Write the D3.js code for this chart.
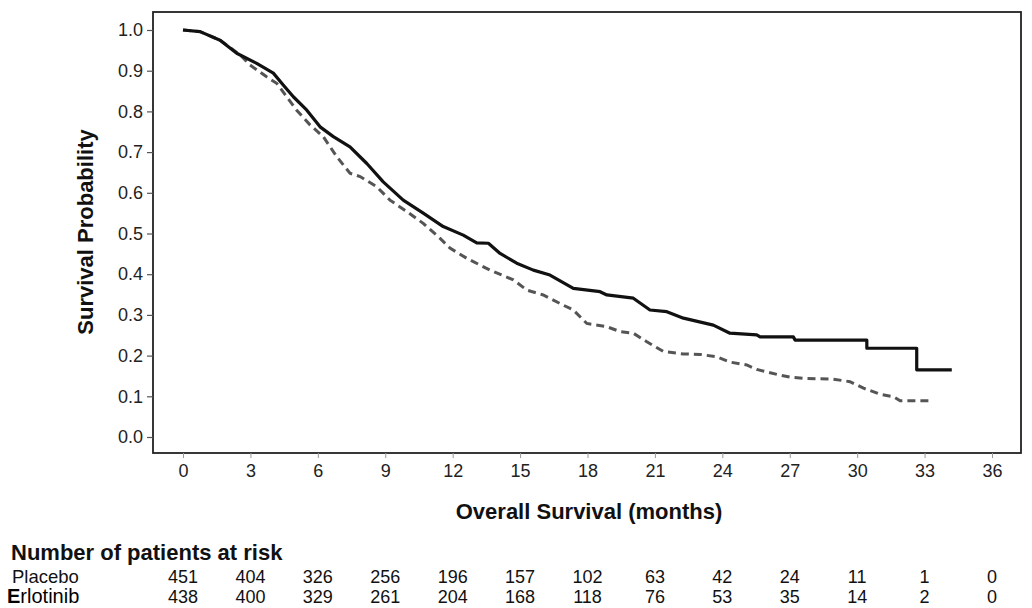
<!DOCTYPE html>
<html>
<head>
<meta charset="utf-8">
<script src="https://cdn.jsdelivr.net/npm/d3@7"></script>
<style>
  html, body { margin: 0; padding: 0; background: #fff; }
  svg { display: block; font-family: "Liberation Sans", Arial, sans-serif; }
</style>
</head>
<body>
<svg id="chart" width="1032" height="608"></svg>
<script>
// ---- Data ----
const erlotinibTime = [0, 0.76, 1.65, 2.39, 3.28, 4.02, 4.46, 4.91, 5.51, 6.10, 6.69, 7.43, 8.18, 8.91, 9.80, 10.69, 11.58, 12.47, 13.07, 13.59, 14.11, 14.85, 15.59, 16.33, 17.37, 18.56, 18.86, 20.04, 20.78, 21.53, 22.27, 23.60, 24.34, 25.53, 25.68, 27.16, 27.24, 30.43, 30.43, 32.65, 32.65, 34.21];
const erlotinibSurv = [1.000, 0.996, 0.975, 0.943, 0.918, 0.894, 0.865, 0.836, 0.803, 0.762, 0.738, 0.713, 0.672, 0.627, 0.582, 0.550, 0.517, 0.496, 0.477, 0.476, 0.451, 0.427, 0.410, 0.398, 0.365, 0.357, 0.349, 0.341, 0.312, 0.308, 0.292, 0.275, 0.255, 0.251, 0.246, 0.246, 0.238, 0.238, 0.218, 0.218, 0.165, 0.165];

const placeboTime = [0, 0.76, 1.65, 2.54, 2.98, 3.72, 4.17, 5.06, 5.65, 6.24, 6.84, 7.43, 7.88, 8.62, 9.21, 9.96, 10.69, 11.44, 11.88, 12.63, 13.66, 14.70, 15.30, 16.03, 16.92, 17.37, 17.97, 18.86, 19.45, 20.04, 20.64, 21.38, 22.27, 23.01, 23.75, 24.34, 25.09, 25.53, 26.57, 27.01, 27.61, 28.94, 29.68, 30.28, 31.02, 31.61, 31.91, 33.24];
const placeboSurv = [1.000, 0.996, 0.975, 0.939, 0.914, 0.885, 0.869, 0.803, 0.767, 0.738, 0.689, 0.648, 0.640, 0.615, 0.582, 0.554, 0.525, 0.488, 0.464, 0.439, 0.410, 0.386, 0.361, 0.349, 0.324, 0.312, 0.279, 0.271, 0.259, 0.255, 0.234, 0.210, 0.204, 0.203, 0.197, 0.184, 0.177, 0.166, 0.152, 0.147, 0.144, 0.142, 0.136, 0.120, 0.105, 0.099, 0.089, 0.089];

const xTicks = [0, 3, 6, 9, 12, 15, 18, 21, 24, 27, 30, 33, 36];
const yTicks = [0.0, 0.1, 0.2, 0.3, 0.4, 0.5, 0.6, 0.7, 0.8, 0.9, 1.0];

const riskTimes = [0, 3, 6, 9, 12, 15, 18, 21, 24, 27, 30, 33, 36];
const riskPlacebo = [451, 404, 326, 256, 196, 157, 102, 63, 42, 24, 11, 1, 0];
const riskErlotinib = [438, 400, 329, 261, 204, 168, 118, 76, 53, 35, 14, 2, 0];

const xTitle = "Overall Survival (months)";
const yTitle = "Survival Probability";
const riskTitle = "Number of patients at risk";
const riskLabels = ["Placebo", "Erlotinib"];

// ---- Drawing ----
const svg = d3.select("#chart");
const frame = {left: 153, top: 12, right: 1021, bottom: 453};
const FONT = "'Liberation Sans', Arial, sans-serif";

const x = d3.scaleLinear().domain([0, 36]).range([183, 992]);
const y = d3.scaleLinear().domain([0, 1]).range([437, 30]);

// frame
svg.append("rect")
  .attr("x", frame.left).attr("y", frame.top)
  .attr("width", frame.right - frame.left).attr("height", frame.bottom - frame.top)
  .attr("fill", "none").attr("stroke", "#222").attr("stroke-width", 1.8);

// y axis
const yAxis = d3.axisLeft(y).tickValues(yTicks).tickFormat(d3.format(".1f")).tickSize(6).tickPadding(4);
const gy = svg.append("g").attr("transform", `translate(${frame.left},0)`).call(yAxis);
gy.select(".domain").remove();
gy.selectAll(".tick line").attr("stroke", "#555").attr("stroke-width", 1.2);
gy.selectAll(".tick text").attr("font-size", 18).attr("fill", "#222").attr("font-family", FONT);

// x axis
const xAxis = d3.axisBottom(x).tickValues(xTicks).tickSize(5).tickPadding(6);
const gx = svg.append("g").attr("transform", `translate(0,${frame.bottom})`).call(xAxis);
gx.select(".domain").remove();
gx.selectAll(".tick line").attr("stroke", "#999").attr("stroke-width", 1);
gx.selectAll(".tick text").attr("font-size", 18).attr("fill", "#222").attr("font-family", FONT);

// titles
svg.append("text").attr("x", 589).attr("y", 519).attr("text-anchor", "middle")
  .attr("font-size", 22).attr("font-weight", "bold").attr("fill", "#111").text(xTitle);
svg.append("text").attr("transform", "translate(93,232) rotate(-90)").attr("text-anchor", "middle")
  .attr("font-size", 22).attr("font-weight", "bold").attr("fill", "#111").text(yTitle);

// curves
const line = d3.line().x(d => x(d[0])).y(d => y(d[1])).curve(d3.curveLinear);
const placeboData = d3.zip(placeboTime, placeboSurv);
const erlotinibData = d3.zip(erlotinibTime, erlotinibSurv);

svg.append("path").datum(placeboData).attr("d", line)
  .attr("fill", "none").attr("stroke", "#555").attr("stroke-width", 3)
  .attr("stroke-dasharray", "8,5");
svg.append("path").datum(erlotinibData).attr("d", line)
  .attr("fill", "none").attr("stroke", "#111").attr("stroke-width", 3.2)
  .attr("stroke-linejoin", "round");

// risk table
svg.append("text").attr("x", 11).attr("y", 560).attr("font-size", 22)
  .attr("font-weight", "bold").attr("fill", "#111").text(riskTitle);
svg.append("text").attr("x", 12).attr("y", 583).attr("font-size", 18.5)
  .attr("fill", "#111").text(riskLabels[0]);
const erl = svg.append("text").attr("x", 7).attr("y", 603).attr("font-size", 20).attr("fill", "#000");
erl.append("tspan").attr("font-weight", "bold").text(riskLabels[1].slice(0, 1));
erl.append("tspan").text(riskLabels[1].slice(1));

svg.append("g").selectAll("text").data(d3.zip(riskTimes, riskPlacebo)).join("text")
  .attr("x", d => x(d[0])).attr("y", 583).attr("text-anchor", "middle")
  .attr("font-size", 18).attr("fill", "#111").text(d => d[1]);
svg.append("g").selectAll("text").data(d3.zip(riskTimes, riskErlotinib)).join("text")
  .attr("x", d => x(d[0])).attr("y", 603).attr("text-anchor", "middle")
  .attr("font-size", 18).attr("fill", "#111").text(d => d[1]);
</script>
</body>
</html>
